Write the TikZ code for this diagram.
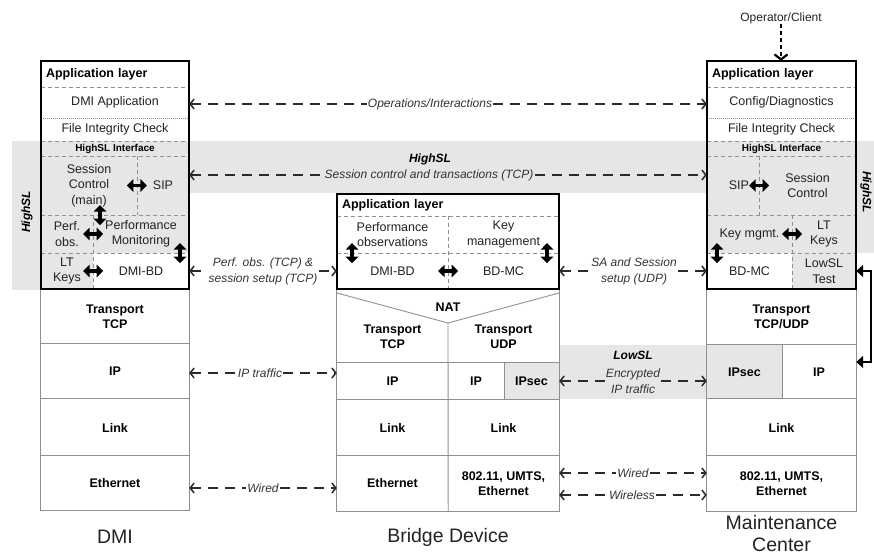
\documentclass[tikz,border=0pt]{standalone}
\usepackage{fontspec}
\setmainfont{Liberation Sans}
\usetikzlibrary{arrows.meta}
\definecolor{band}{HTML}{E6E6E6}
\definecolor{lnc}{HTML}{8F8F8F}
\definecolor{conc}{HTML}{2B2B2B}
\definecolor{txt}{HTML}{222222}
\tikzset{
  sz/.style 2 args={minimum width=#1pt, minimum height=#2pt},
  cell/.style={inner sep=0pt, align=center, text=txt, font=\fontsize{12.5}{15.5}\selectfont},
  bcell/.style={inner sep=0pt, align=center, text=black, font=\fontsize{12.5}{15}\selectfont\bfseries},
  titlecell/.style={inner sep=0pt, align=left, text=black, font=\fontsize{12.5}{15}\selectfont\bfseries},
  hsicell/.style={inner sep=0pt, text=black, font=\fontsize{10}{12}\selectfont\bfseries},
  biglbl/.style={inner sep=0pt, align=center, text=txt, font=\fontsize{19.5}{22}\selectfont},
  lbl/.style={inner sep=1pt, align=center, text=black!80, font=\fontsize{12}{16}\selectfont\itshape},
  zone/.style={inner sep=0pt, align=center, text=black, font=\fontsize{12}{14}\selectfont\bfseries\itshape},
  boldbox/.style={draw=black, line width=1.6pt},
  thin/.style={draw=lnc, line width=0.9pt},
  sep/.style={draw=lnc, line width=0.9pt, dash pattern=on 4pt off 3pt},
  dots/.style={draw=lnc, line width=0.8pt, dash pattern=on 1pt off 1pt},
  conn/.style={draw=conc, line width=1.5pt, dash pattern=on 10pt off 7pt},
  lt/.style={arrows={Straight Barb[length=4pt,width=10pt]-}},
  rt/.style={arrows={-Straight Barb[length=4pt,width=10pt]}},
  fat/.style={draw=black, line width=3.6pt, arrows={Triangle[length=6.5pt,width=12.5pt]-Triangle[length=6.5pt,width=12.5pt]}},
  bigfat/.style={draw=black, line width=2pt, arrows={Triangle[length=7pt,width=12pt]-Triangle[length=7pt,width=12pt]}},
  oparrow/.style={draw=black, line width=2.2pt, dash pattern=on 4pt off 3pt, arrows={-Straight Barb[length=5pt,width=13pt]}},
}
\begin{document}
\begin{tikzpicture}[x=1pt,y=-1pt]
\useasboundingbox (0,0) rectangle (874,556);

% ---------- gray zones ----------
\fill[band] (12,141) rectangle (874,193);
\fill[band] (12,141) rectangle (41,290);
\fill[band] (856,141) rectangle (874,253);
\fill[band] (41,141) rectangle (189,253);
\fill[band] (41,253) rectangle (93,289);
\fill[band] (707,141) rectangle (856,253);
\fill[band] (792,253) rectangle (856,289);
\fill[band] (559,345) rectangle (707,399);
\fill[band] (504,363) rectangle (559,400);
\fill[band] (707,345) rectangle (782,399);

% ---------- left stack (DMI) ----------
\node[titlecell, sz={148}{26}, text width=138pt] (ltitle) at (115,74) {Application layer};
\node[cell, sz={148}{31}] (dmiapp) at (115,102.5) {DMI Application};
\node[cell, sz={148}{23}] (lfic) at (115,129.5) {File Integrity Check};
\node[hsicell, sz={148}{15}] (lhsi) at (115,148.5) {HighSL Interface};
\node[cell, sz={96}{59}] (lsess) at (89,185.5) {Session\\Control\\(main)};
\node[cell, sz={52}{59}] (lsip) at (163,185.5) {SIP};
\node[cell, sz={52}{38}] (lperfobs) at (67,234) {Perf.\\obs.};
\node[cell, sz={96}{38}] (lperfmon) at (141,234) {Performance\\Monitoring};
\node[cell, sz={52}{36}] (llt) at (67,271) {LT\\Keys};
\node[cell, sz={96}{36}] (ldmibd) at (141,271) {DMI-BD};
\node[bcell, sz={148}{55}] (ltrans) at (115,316.5) {Transport\\TCP};
\node[bcell, sz={148}{55}] (lip) at (115,371.5) {IP};
\node[bcell, sz={148}{57}] (llink) at (115,427.5) {Link};
\node[bcell, sz={148}{54}] (leth) at (115,483) {Ethernet};
\node[biglbl] (ldmi) at (115,537) {DMI};

\draw[sep] (ltitle.south west) -- (ltitle.south east);
\draw[dots] (dmiapp.south west) -- (dmiapp.south east);
\draw[sep] (lfic.south west) -- (lfic.south east);
\draw[sep] (lhsi.south west) -- (lhsi.south east);
\draw[sep] (lsess.north east) -- (lsess.south east);
\draw[sep] (lsess.south west) -- (lsip.south east);
\draw[sep] (lperfobs.north east) -- (llt.south east);
\draw[sep] (lperfobs.south west) -- (lperfmon.south east);
\draw[thin] (ltrans.north west) rectangle (leth.south east);
\draw[thin] (lip.north west) -- (lip.north east);
\draw[thin] (llink.north west) -- (llink.north east);
\draw[thin] (leth.north west) -- (leth.north east);
\draw[boldbox] (ltitle.north west) rectangle (ldmibd.south east);

\draw[fat] ([xshift=-10pt]lsip.west) -- ([xshift=10pt]lsip.west);
\draw[fat] ([xshift=11pt,yshift=10pt]lsess.south) -- ([xshift=11pt,yshift=-10pt]lsess.south);
\draw[fat] ([xshift=-10pt]lperfobs.east) -- ([xshift=10pt]lperfobs.east);
\draw[fat] ([xshift=39pt,yshift=10pt]lperfmon.south) -- ([xshift=39pt,yshift=-10pt]lperfmon.south);
\draw[fat] ([xshift=-10pt]llt.east) -- ([xshift=10pt]llt.east);

% ---------- middle stack (Bridge Device) ----------
\node[titlecell, sz={222}{22}, text width=212pt] (mtitle) at (448,205) {Application layer};
\node[cell, sz={111}{37}] (mperf) at (392.5,234.5) {Performance\\observations};
\node[cell, sz={111}{37}] (mkey) at (503.5,234.5) {Key\\management};
\node[cell, sz={111}{36}] (mdmibd) at (392.5,271) {DMI-BD};
\node[cell, sz={111}{36}] (mbdmc) at (503.5,271) {BD-MC};
\node[bcell] (mnat) at (448,307) {NAT};
\node[bcell] (mtcp) at (392.5,337) {Transport\\TCP};
\node[bcell] (mudp) at (503.5,337) {Transport\\UDP};
\node[bcell, sz={111}{37}] (mip1) at (392.5,381.5) {\raisebox{-4pt}{IP}};
\node[bcell, sz={56}{37}] (mip2) at (476,381.5) {IP};
\node[bcell, sz={55}{37}] (mipsec) at (531.5,381.5) {IPsec};
\node[bcell, sz={111}{56}] (mlink1) at (392.5,428) {Link};
\node[bcell, sz={111}{56}] (mlink2) at (503.5,428) {Link};
\node[bcell, sz={111}{55}] (meth) at (392.5,483.5) {Ethernet};
\node[bcell, sz={111}{55}] (mwl) at (503.5,483.5) {802.11, UMTS,\\Ethernet};
\node[biglbl] (mlbl) at (448,537) {Bridge Device};

\draw[sep] (mtitle.south west) -- (mtitle.south east);
\draw[sep] (mperf.north east) -- (mdmibd.south east);
\draw[sep] (mperf.south west) -- (mkey.south east);
\draw[thin] (mdmibd.south west) rectangle (mwl.south east);
\draw[thin] (337,293) -- (448,323) -- (559,293);
\draw[thin] (448,323) -- (meth.south east);
\draw[thin] (mip1.north west) -- (mipsec.north east);
\draw[thin] (mip2.north east) -- (mip2.south east);
\draw[thin] (mlink1.north west) -- (mlink2.north east);
\draw[thin] (meth.north west) -- (mwl.north east);
\draw[boldbox] (mtitle.north west) rectangle (mbdmc.south east);

\draw[fat] ([xshift=-10pt]mdmibd.east) -- ([xshift=10pt]mdmibd.east);
\draw[fat] ([xshift=-40.5pt,yshift=10pt]mperf.south) -- ([xshift=-40.5pt,yshift=-10pt]mperf.south);
\draw[fat] ([xshift=43.5pt,yshift=10pt]mkey.south) -- ([xshift=43.5pt,yshift=-10pt]mkey.south);

% ---------- right stack (Maintenance Center) ----------
\node[titlecell, sz={149}{26}, text width=139pt] (rtitle) at (781.5,74) {Application layer};
\node[cell, sz={149}{31}] (rconf) at (781.5,102.5) {Config/Diagnostics};
\node[cell, sz={149}{23}] (rfic) at (781.5,129.5) {File Integrity Check};
\node[hsicell, sz={149}{15}] (rhsi) at (781.5,148.5) {HighSL Interface};
\node[cell, sz={52}{59}, text width=32pt, align=right] (rsip) at (733,185.5) {SIP};
\node[cell, sz={97}{59}] (rsess) at (807.5,185.5) {Session\\Control};
\node[cell, sz={85}{38}] (rkey) at (749.5,234) {Key mgmt.};
\node[cell, sz={64}{38}] (rlt) at (824,234) {LT\\Keys};
\node[cell, sz={85}{36}] (rbdmc) at (749.5,271) {BD-MC};
\node[cell, sz={64}{36}] (rlowsl) at (824,271) {LowSL\\Test};
\node[bcell, sz={149}{56}] (rtrans) at (781.5,317) {Transport\\TCP/UDP};
\node[bcell, sz={75}{54}] (ripsec) at (744.5,372) {IPsec};
\node[bcell, sz={74}{54}] (rip) at (819,372) {IP};
\node[bcell, sz={149}{57}] (rlink) at (781.5,427.5) {Link};
\node[bcell, sz={149}{55}] (rwl) at (781.5,483.5) {802.11, UMTS,\\Ethernet};
\node[biglbl] (rlbl) at (781.5,534) {Maintenance\\Center};

\draw[sep] (rtitle.south west) -- (rtitle.south east);
\draw[dots] (rconf.south west) -- (rconf.south east);
\draw[sep] (rfic.south west) -- (rfic.south east);
\draw[sep] (rhsi.south west) -- (rhsi.south east);
\draw[sep] (rsip.north east) -- (rsip.south east);
\draw[sep] (rsip.south west) -- (rsess.south east);
\draw[sep] (rkey.north east) -- (rbdmc.south east);
\draw[sep] (rkey.south west) -- (rlt.south east);
\draw[thin] (rtrans.north west) rectangle (rwl.south east);
\draw[thin] (ripsec.north west) -- (rip.north east);
\draw[thin] (ripsec.north east) -- (ripsec.south east);
\draw[thin] (rlink.north west) -- (rlink.north east);
\draw[thin] (rwl.north west) -- (rwl.north east);
\draw[boldbox] (rtitle.north west) rectangle (rlowsl.south east);

\draw[fat] ([xshift=-10pt]rsip.east) -- ([xshift=10pt]rsip.east);
\draw[fat] ([xshift=-10pt]rkey.east) -- ([xshift=10pt]rkey.east);
\draw[fat] ([xshift=-32.5pt,yshift=10pt]rkey.south) -- ([xshift=-32.5pt,yshift=-10pt]rkey.south);
\draw[bigfat] (rlowsl.east) -- ++(15,0) |- ([yshift=10pt]rip.east);

% ---------- zone labels ----------
\node[zone] (hslmid) at (430,159) {HighSL};
\node[zone, rotate=90] (hslleft) at (27,212) {HighSL};
\node[zone, rotate=-90] (hslright) at (866,192) {HighSL};
\node[zone] (lowsl) at (633,355) {LowSL};

% ---------- connectors ----------
\node[lbl] (ops) at (430,104) {Operations/Interactions};
\draw[conn,lt] (dmiapp.east |- ops) -- (ops.west);
\draw[conn,rt] (ops.east) -- (rconf.west |- ops);

\node[lbl] (sct) at (429,175) {Session control and transactions (TCP)};
\draw[conn,lt] (lsip.east |- sct) -- (sct.west);
\draw[conn,rt] (sct.east) -- (rsip.west |- sct);

\node[lbl] (pobs) at (263,271) {Perf. obs. (TCP) \&\\session setup (TCP)};
\draw[conn,lt] (ldmibd.east |- pobs) -- (pobs.west);
\draw[conn,rt] (pobs.east) -- (mdmibd.west |- pobs);

\node[lbl] (sas) at (634,271) {SA and Session\\setup (UDP)};
\draw[conn,lt] (mbdmc.east |- sas) -- (sas.west);
\draw[conn,rt] (sas.east) -- (rbdmc.west |- sas);

\node[lbl] (ipt) at (260,373) {IP traffic};
\draw[conn,lt] (lip.east |- ipt) -- (ipt.west);
\draw[conn,rt] (ipt.east) -- (mip1.west |- ipt);

\node[lbl] (enc) at (633,381) {Encrypted\\IP traffic};
\draw[conn,lt] (mipsec.east |- enc) -- (enc.west);
\draw[conn,rt] (enc.east) -- (ripsec.west |- enc);

\node[lbl] (wl1) at (263,488) {Wired};
\draw[conn,lt] (leth.east |- wl1) -- (wl1.west);
\draw[conn,rt] (wl1.east) -- (meth.west |- wl1);

\node[lbl] (wr1) at (633,473) {Wired};
\draw[conn,lt] (mwl.east |- wr1) -- (wr1.west);
\draw[conn,rt] (wr1.east) -- (rwl.west |- wr1);

\node[lbl] (wr2) at (632,495) {Wireless};
\draw[conn,lt] (mwl.east |- wr2) -- (wr2.west);
\draw[conn,rt] (wr2.east) -- (rwl.west |- wr2);

\node[cell, font=\fontsize{12}{14}\selectfont] (op) at (781,18) {Operator/Client};
\draw[oparrow] (op.south) -- (op.south |- rtitle.north);
\end{tikzpicture}
\end{document}
